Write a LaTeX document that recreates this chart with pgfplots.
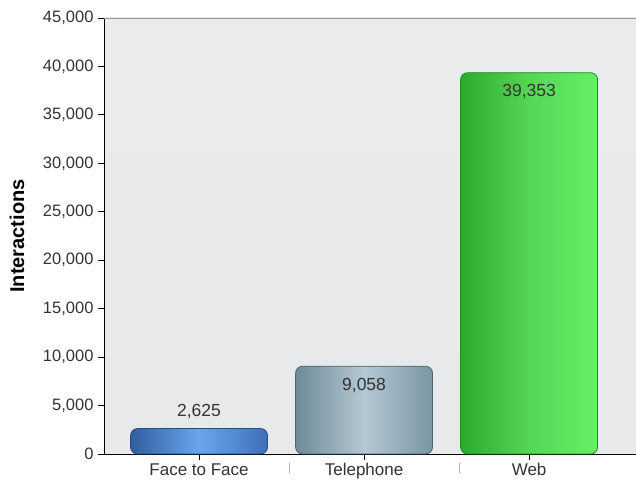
\documentclass[border=0pt]{standalone}
\usepackage{pgfplots}
\pgfplotsset{compat=1.18}
\usepackage{fontspec}
\setmainfont{Liberation Sans}
\definecolor{bgc}{HTML}{E8E9EB}
\definecolor{tickc}{HTML}{333333}
\definecolor{fL}{HTML}{2F5E9E}
\definecolor{fM}{HTML}{6AA6EC}
\definecolor{fR}{HTML}{3E70B6}
\definecolor{fD}{HTML}{264C80}
\definecolor{tL}{HTML}{6E8A98}
\definecolor{tM}{HTML}{B4C8D2}
\definecolor{tR}{HTML}{7A96A4}
\definecolor{tD}{HTML}{4F6570}
\definecolor{wL}{HTML}{2CAA2C}
\definecolor{wM}{HTML}{55D655}
\definecolor{wR}{HTML}{66F066}
\definecolor{wD}{HTML}{1E8C1E}
\begin{document}
\begin{tikzpicture}
\useasboundingbox (0,0) rectangle (636pt,486pt);
\begin{axis}[
  at={(104pt,32pt)}, anchor=south west,
  scale only axis, width=532pt, height=436pt,
  xmin=-0.576, xmax=2.648, ymin=0, ymax=45000,
  clip=false,
  axis x line*=bottom, axis y line*=left,
  axis line style={black, line width=0.8pt},
  axis background/.style={shade, top color=bgc!90!white, bottom color=bgc},
  tick align=outside, major tick length=6pt,
  tick style={black, line width=0.8pt},
  ytick={0,5000,...,45000},
  scaled y ticks=false,
  /pgf/number format/assume math mode=true,
  yticklabel style={/pgf/number format/1000 sep={,}, font=\fontsize{16.5}{19}\selectfont, text=tickc, xshift=-1pt},
  xtick={0,1,2},
  xticklabels={Face to Face, Telephone, Web},
  xticklabel style={font=\fontsize{17}{20}\selectfont, text=tickc},
  ylabel={\bfseries Interactions},
  every axis y label/.style={at={(rel axis cs:0,0.5)}, xshift=-87pt, rotate=90, anchor=center, font=\fontsize{20}{24}\selectfont},
  extra y ticks={45000}, extra y tick labels={},
  extra y tick style={grid=major, major grid style={gray!80, line width=0.6pt}},
  nodes near coords={\pgfmathprintnumber[1000 sep={,}]{\pgfplotspointmeta}},
  every node near coord/.append style={font=\fontsize{17.5}{20}\selectfont, text=tickc, anchor=center},
]
\addplot[ybar, bar width=137pt, bar shift=0pt, rounded corners=7pt,
  draw=fD, line width=0.8pt,
  left color=fL, right color=fR, middle color=fM,
  every node near coord/.append style={yshift=17pt}]
  coordinates {(0,2625)};
\addplot[ybar, bar width=137pt, bar shift=0pt, rounded corners=7pt,
  draw=tD, line width=0.8pt,
  left color=tL, right color=tR, middle color=tM,
  every node near coord/.append style={yshift=-19pt}]
  coordinates {(1,9058)};
\addplot[ybar, bar width=137pt, bar shift=0pt, rounded corners=7pt,
  draw=wD, line width=0.8pt,
  left color=wL, right color=wR, middle color=wM,
  every node near coord/.append style={yshift=-19pt}]
  coordinates {(2,39353)};
\draw[gray!60, line width=0.6pt] ([yshift=-9pt]axis cs:0.545,0) -- ([yshift=-19pt]axis cs:0.545,0);
\draw[gray!60, line width=0.6pt] ([yshift=-9pt]axis cs:1.58,0) -- ([yshift=-19pt]axis cs:1.58,0);
\end{axis}
\end{tikzpicture}
\end{document}
